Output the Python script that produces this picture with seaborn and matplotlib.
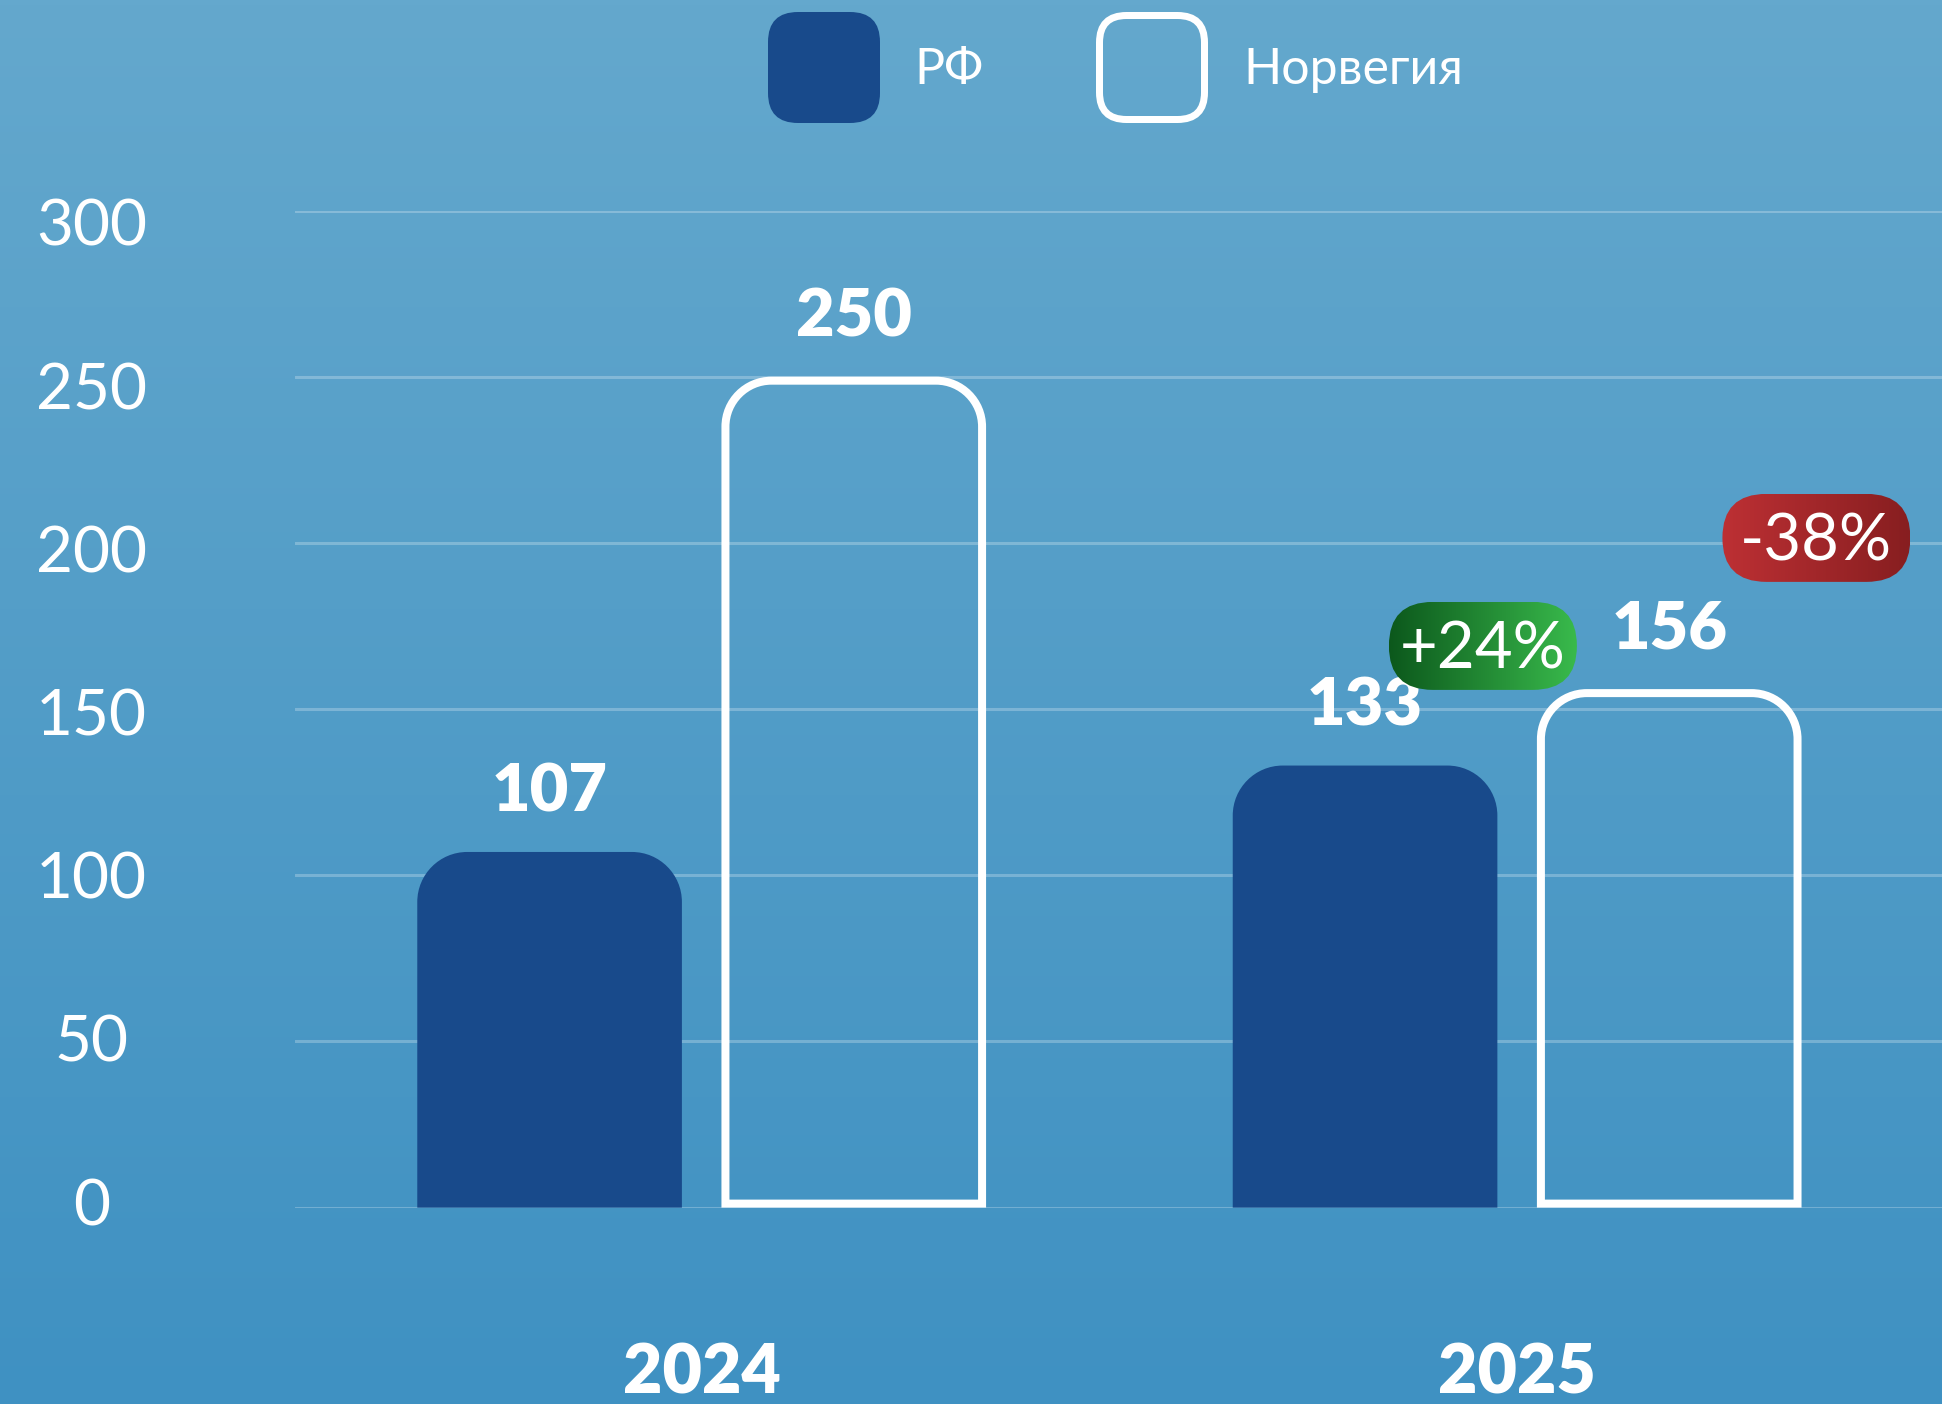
import numpy as np
import pandas as pd
import seaborn as sns

import matplotlib
matplotlib.use('Agg')
import matplotlib.pyplot as plt
from matplotlib.path import Path
from matplotlib.patches import PathPatch, FancyBboxPatch
from matplotlib.colors import LinearSegmentedColormap
from matplotlib.transforms import ScaledTranslation

YEARS = ["2024", "2025"]
COUNTRIES = ["РФ", "Норвегия"]
RF_VALUES = [107, 133]
NORWAY_VALUES = [250, 156]
Y_TICKS = [0, 50, 100, 150, 200, 250, 300]
BADGE_TEXT = ["+24%", "-38%"]

W, H, DPI = 1942, 1404, 100
RF_COLOR = "#184a8b"
BADGE_COLORS = [["#0c581c", "#39ba4c"], ["#bd3034", "#871e20"]]
# badge centres, in the bar chart's data coordinates
BADGE_ANCHORS = [(0.958, 169.0), (1.367, 201.5)]

sns.set_theme(style="white")
plt.rcParams['font.family'] = ['Lato', 'DejaVu Sans']

df = pd.DataFrame({
    "year": YEARS * 2,
    "country": [COUNTRIES[0]] * len(YEARS) + [COUNTRIES[1]] * len(YEARS),
    "value": RF_VALUES + NORWAY_VALUES,
})

fig = plt.figure(figsize=(W / DPI, H / DPI), dpi=DPI)

# background gradient
bg = fig.add_axes([0, 0, 1, 1], zorder=-10)
bg_cmap = LinearSegmentedColormap.from_list("bg", ["#64a8cd", "#3f91c2"])
bg.imshow(np.linspace(0, 1, 256).reshape(-1, 1), aspect="auto", cmap=bg_cmap, extent=(0, 1, 0, 1))
bg.axis("off")

ax = fig.add_axes([295 / W, 1 - 1207.6 / H, 1 - 295 / W, (1207.6 - 210.5) / H])
ax.patch.set_alpha(0)
sns.barplot(data=df, x="year", y="value", hue="country", hue_order=COUNTRIES,
            palette=[RF_COLOR, "#ffffff"], width=0.746, gap=0.13,
            errorbar=None, legend=False, ax=ax)
ax.set_xlim(-0.4987, 1.521)
ax.set_ylim(0, 300)
ax.set_xlabel("")
ax.set_ylabel("")
for s in ax.spines.values():
    s.set_visible(False)

# pixels per data unit
sx = ax.transData.transform((1, 0))[0] - ax.transData.transform((0, 0))[0]
sy = ax.transData.transform((0, 1))[1] - ax.transData.transform((0, 0))[1]


def rounded_top(x0, x1, y0, y1, rx, ry):
    k = 0.5523
    verts = [(x0, y0), (x0, y1 - ry),
             (x0, y1 - ry + k * ry), (x0 + rx - k * rx, y1), (x0 + rx, y1),
             (x1 - rx, y1),
             (x1 - rx + k * rx, y1), (x1, y1 - ry + k * ry), (x1, y1 - ry),
             (x1, y0), (x0, y0)]
    codes = [Path.MOVETO, Path.LINETO,
             Path.CURVE4, Path.CURVE4, Path.CURVE4,
             Path.LINETO,
             Path.CURVE4, Path.CURVE4, Path.CURVE4,
             Path.LINETO, Path.CLOSEPOLY]
    return Path(verts, codes)


radius = 50
for bar in list(ax.patches):
    x0, w, h = bar.get_x(), bar.get_width(), bar.get_height()
    outline = bar.get_facecolor()[0] > 0.9
    bar.set_visible(False)
    if outline:
        lw = 8
        ix, iy = lw / 2 / sx, lw / 2 / sy
        p = rounded_top(x0 + ix, x0 + w - ix, iy, h - iy, radius / sx - ix, radius / sy - iy)
        ax.add_patch(PathPatch(p, facecolor="none", edgecolor="white", lw=lw * 72 / DPI,
                               clip_on=False, zorder=3))
    else:
        p = rounded_top(x0, x0 + w, 0, h, radius / sx, radius / sy)
        ax.add_patch(PathPatch(p, facecolor=RF_COLOR, edgecolor="none", zorder=3))
    ax.annotate(f"{h:.0f}", (x0 + w / 2, h), xytext=(0, 29), textcoords="offset points",
                ha="center", va="baseline", fontsize=48, fontweight="heavy", color="white")

ax.set_yticks(Y_TICKS)
ax.grid(axis="y", color="white", alpha=0.25, lw=2.2)
ax.grid(axis="x", visible=False)
ax.set_axisbelow(True)
ax.tick_params(axis="y", length=0, pad=146.5, labelsize=46, labelcolor="white")
ax.tick_params(axis="x", length=0, pad=97, labelsize=49, labelcolor="white")
for lbl, v in zip(ax.get_yticklabels(), Y_TICKS):
    lbl.set_horizontalalignment("center")
    lbl.set_fontweight("normal")
    # labels sit a little off their gridlines in the original: lower at the top, higher at 0
    dy = (v - 100) * 0.06
    lbl.set_transform(lbl.get_transform() + ScaledTranslation(0, -dy / DPI, fig.dpi_scale_trans))
for lbl in ax.get_xticklabels():
    lbl.set_fontweight("heavy")

# overlay in pixel coordinates (y down) for legend and badges
ov = fig.add_axes([0, 0, 1, 1], zorder=10)
ov.patch.set_alpha(0)
ov.axis("off")

ov.add_patch(FancyBboxPatch((768, 12), 112, 111, boxstyle="round,pad=0,rounding_size=30",
                            fc=RF_COLOR, ec="none"))
ov.add_patch(FancyBboxPatch((1099.5, 15.5), 105, 104, boxstyle="round,pad=0,rounding_size=27",
                            fc="none", ec="white", lw=7 * 72 / DPI))
ov.text(914, 84, COUNTRIES[0], color="white", fontsize=36, fontweight="normal", va="baseline")
ov.text(1243, 84, COUNTRIES[1], color="white", fontsize=36, fontweight="normal", va="baseline")

for text, (bx, by), cols in zip(BADGE_TEXT, BADGE_ANCHORS, BADGE_COLORS):
    px, py = ax.transData.transform((bx, by))
    cy = H - py
    bw, bh = 188, 88
    pill = FancyBboxPatch((px - bw / 2, cy - bh / 2), bw, bh,
                          boxstyle=f"round,pad=0,rounding_size={bh / 2}", fc="none", ec="none")
    ov.add_patch(pill)
    cmap = LinearSegmentedColormap.from_list("b", cols)
    im = ov.imshow(np.linspace(0, 1, 256).reshape(1, -1), cmap=cmap, aspect="auto",
                   extent=(px - bw / 2, px + bw / 2, cy + bh / 2, cy - bh / 2), zorder=2)
    im.set_clip_path(pill)
    ov.text(px, cy + 23, text, color="white", fontsize=47, ha="center", va="baseline", zorder=3)

ov.set_xlim(0, W)
ov.set_ylim(H, 0)

fig.savefig("out.png", dpi=DPI)
